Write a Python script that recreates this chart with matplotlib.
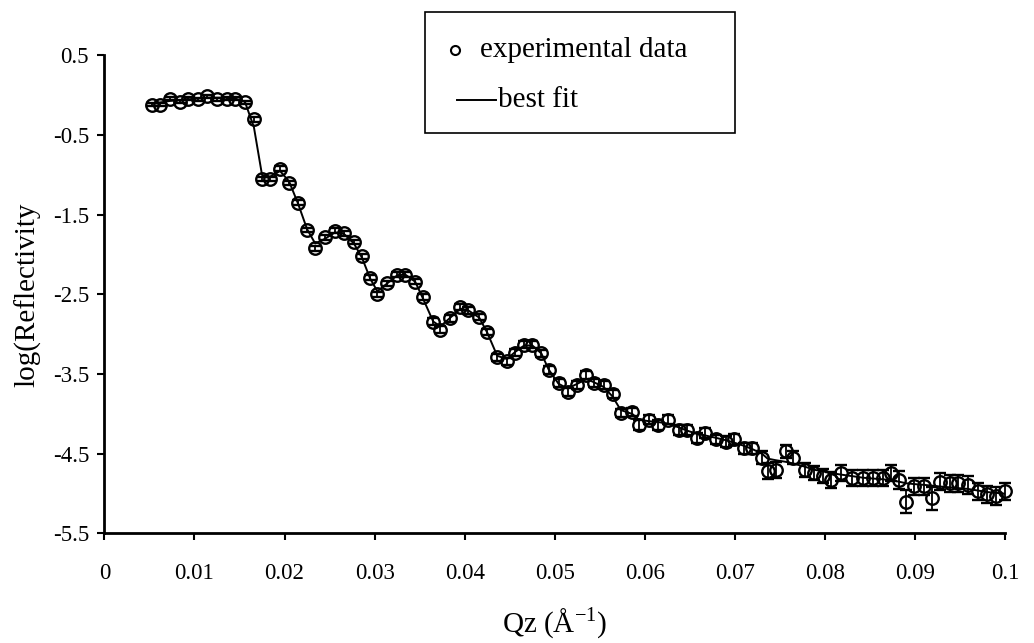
import matplotlib
matplotlib.use("Agg")
import matplotlib.pyplot as plt
from matplotlib.lines import Line2D
from matplotlib.patches import Rectangle

plt.rcParams["font.family"] = ["Liberation Serif", "DejaVu Serif"]
plt.rcParams["mathtext.fontset"] = "custom"
plt.rcParams["mathtext.rm"] = "Liberation Serif"

# Qz values (1/A)
qz = [0.0053, 0.0062, 0.0073, 0.0084, 0.0093, 0.0104, 0.0114, 0.0125, 0.0136, 0.0145,
      0.0156, 0.0166, 0.0175, 0.0184, 0.0195, 0.0205, 0.0215, 0.0225, 0.0234, 0.0245,
      0.0256, 0.0266, 0.0277, 0.0286, 0.0295, 0.0303, 0.0314, 0.0325, 0.0334, 0.0345,
      0.0354, 0.0365, 0.0373, 0.0384, 0.0395, 0.0404, 0.0416, 0.0425, 0.0436, 0.0447,
      0.0456, 0.0466, 0.0475, 0.0485, 0.0493, 0.0504, 0.0514, 0.0525, 0.0535, 0.0543,
      0.0554, 0.0564, 0.0573, 0.0586, 0.0593, 0.0604, 0.0614, 0.0625, 0.0638, 0.0647,
      0.0658, 0.0667, 0.0679, 0.0690, 0.0699, 0.0710, 0.0719, 0.0730, 0.0736, 0.0745,
      0.0756, 0.0764, 0.0777, 0.0788, 0.0797, 0.0806, 0.0817, 0.0830, 0.0842, 0.0853,
      0.0864, 0.0873, 0.0882, 0.0890, 0.0899, 0.0910, 0.0919, 0.0927, 0.0938, 0.0947,
      0.0958, 0.0969, 0.0980, 0.0990, 0.0999]

# experimental log(Reflectivity)
refl = [-0.12, -0.12, -0.04, -0.08, -0.04, -0.05, -0.01, -0.05, -0.04, -0.04,
        -0.09, -0.30, -1.05, -1.05, -0.92, -1.10, -1.35, -1.69, -1.92, -1.78,
        -1.70, -1.73, -1.84, -2.02, -2.29, -2.50, -2.36, -2.25, -2.25, -2.34,
        -2.53, -2.84, -2.94, -2.80, -2.66, -2.70, -2.78, -2.97, -3.29, -3.34,
        -3.23, -3.13, -3.13, -3.24, -3.45, -3.61, -3.72, -3.63, -3.51, -3.61,
        -3.64, -3.75, -3.99, -3.97, -4.14, -4.07, -4.14, -4.07, -4.20, -4.20,
        -4.30, -4.24, -4.32, -4.35, -4.32, -4.43, -4.43, -4.55, -4.72, -4.70,
        -4.47, -4.55, -4.70, -4.74, -4.78, -4.83, -4.74, -4.80, -4.80, -4.80,
        -4.80, -4.74, -4.83, -5.10, -4.91, -4.91, -5.06, -4.85, -4.87, -4.87,
        -4.89, -4.97, -5.01, -5.03, -4.97]

# error bars
err = [0.02, 0.02, 0.02, 0.02, 0.02, 0.02, 0.02, 0.02, 0.02, 0.02,
       0.02, 0.03, 0.03, 0.03, 0.03, 0.03, 0.03, 0.03, 0.03, 0.03,
       0.03, 0.03, 0.03, 0.03, 0.03, 0.03, 0.03, 0.03, 0.03, 0.03,
       0.04, 0.04, 0.04, 0.04, 0.04, 0.04, 0.04, 0.04, 0.04, 0.04,
       0.04, 0.04, 0.04, 0.04, 0.05, 0.05, 0.05, 0.05, 0.05, 0.05,
       0.05, 0.05, 0.05, 0.05, 0.06, 0.06, 0.06, 0.06, 0.06, 0.06,
       0.06, 0.06, 0.06, 0.07, 0.07, 0.07, 0.07, 0.08, 0.10, 0.10,
       0.08, 0.08, 0.09, 0.09, 0.09, 0.10, 0.10, 0.10, 0.10, 0.10,
       0.10, 0.10, 0.11, 0.14, 0.11, 0.11, 0.14, 0.11, 0.11, 0.11,
       0.11, 0.11, 0.11, 0.11, 0.11]

# best fit curve
fit = [-0.10, -0.09, -0.07, -0.06, -0.05, -0.04, -0.03, -0.03, -0.03, -0.04,
       -0.08, -0.40, -1.00, -1.02, -0.95, -1.08, -1.36, -1.68, -1.86, -1.80,
       -1.72, -1.74, -1.86, -2.04, -2.30, -2.46, -2.36, -2.26, -2.25, -2.34,
       -2.56, -2.84, -2.90, -2.79, -2.68, -2.70, -2.79, -2.98, -3.27, -3.31,
       -3.22, -3.14, -3.14, -3.24, -3.44, -3.62, -3.68, -3.62, -3.56, -3.60,
       -3.66, -3.78, -3.95, -4.00, -4.07, -4.09, -4.10, -4.12, -4.17, -4.21,
       -4.25, -4.27, -4.30, -4.33, -4.36, -4.40, -4.44, -4.50, -4.56, -4.58,
       -4.60, -4.62, -4.66, -4.70, -4.72, -4.74, -4.76, -4.78, -4.80, -4.81,
       -4.82, -4.83, -4.85, -4.87, -4.88, -4.89, -4.90, -4.91, -4.92, -4.93,
       -4.94, -4.96, -4.98, -4.99, -5.00]

fig = plt.figure(figsize=(10.34, 6.43), dpi=100)
ax = fig.add_axes([0.1009, 0.1703, 0.8715, 0.7434])

ax.plot(qz, fit, color="black", lw=1.4, zorder=2)
ax.errorbar(qz, refl, yerr=err, fmt="o", ms=9, mfc="none", mec="black", mew=1.7,
            ecolor="black", elinewidth=1.3, capsize=4, capthick=1.3, zorder=3,
            clip_on=False)

ax.set_xlim(0, 0.1)
ax.set_ylim(-5.5, 0.5)
ax.set_xticks([0, 0.01, 0.02, 0.03, 0.04, 0.05, 0.06, 0.07, 0.08, 0.09, 0.1])
ax.set_xticklabels(["0", "0.01", "0.02", "0.03", "0.04", "0.05", "0.06", "0.07",
                    "0.08", "0.09", "0.1"])
ax.set_yticks([0.5, -0.5, -1.5, -2.5, -3.5, -4.5, -5.5])
ax.set_yticklabels(["0.5", "-0.5", "-1.5", "-2.5", "-3.5", "-4.5", "-5.5"])
ax.tick_params(direction="out", length=5, width=1.5, labelsize=16.5, pad=6)
ax.tick_params(axis="x", pad=16)
for s in ["top", "right"]:
    ax.spines[s].set_visible(False)
for s in ["left", "bottom"]:
    ax.spines[s].set_linewidth(2)

ax.set_ylabel("log(Reflectivity", fontsize=21, labelpad=8)
ax.set_xlabel(r"Qz ($\mathrm{\AA}^{\mathrm{-1}}$)", fontsize=21, labelpad=16)

# legend box
fig.patches.append(Rectangle((425 / 1034, 1 - 133 / 643), 310 / 1034, 121 / 643,
                             transform=fig.transFigure, fill=False, lw=1.2,
                             edgecolor="black"))
fig.lines.append(Line2D([455 / 1034], [1 - 50 / 643], marker="o", ms=6.5, mfc="none",
                        mec="black", mew=1.5, transform=fig.transFigure))
fig.text(480 / 1034, 1 - 50 / 643, "experimental data", fontsize=21, va="center")
fig.lines.append(Line2D([457 / 1034, 496 / 1034], [1 - 100 / 643, 1 - 100 / 643],
                        color="black", lw=1.4, transform=fig.transFigure))
fig.text(498 / 1034, 1 - 100 / 643, "best fit", fontsize=21, va="center")

fig.savefig("out.png", dpi=100)
